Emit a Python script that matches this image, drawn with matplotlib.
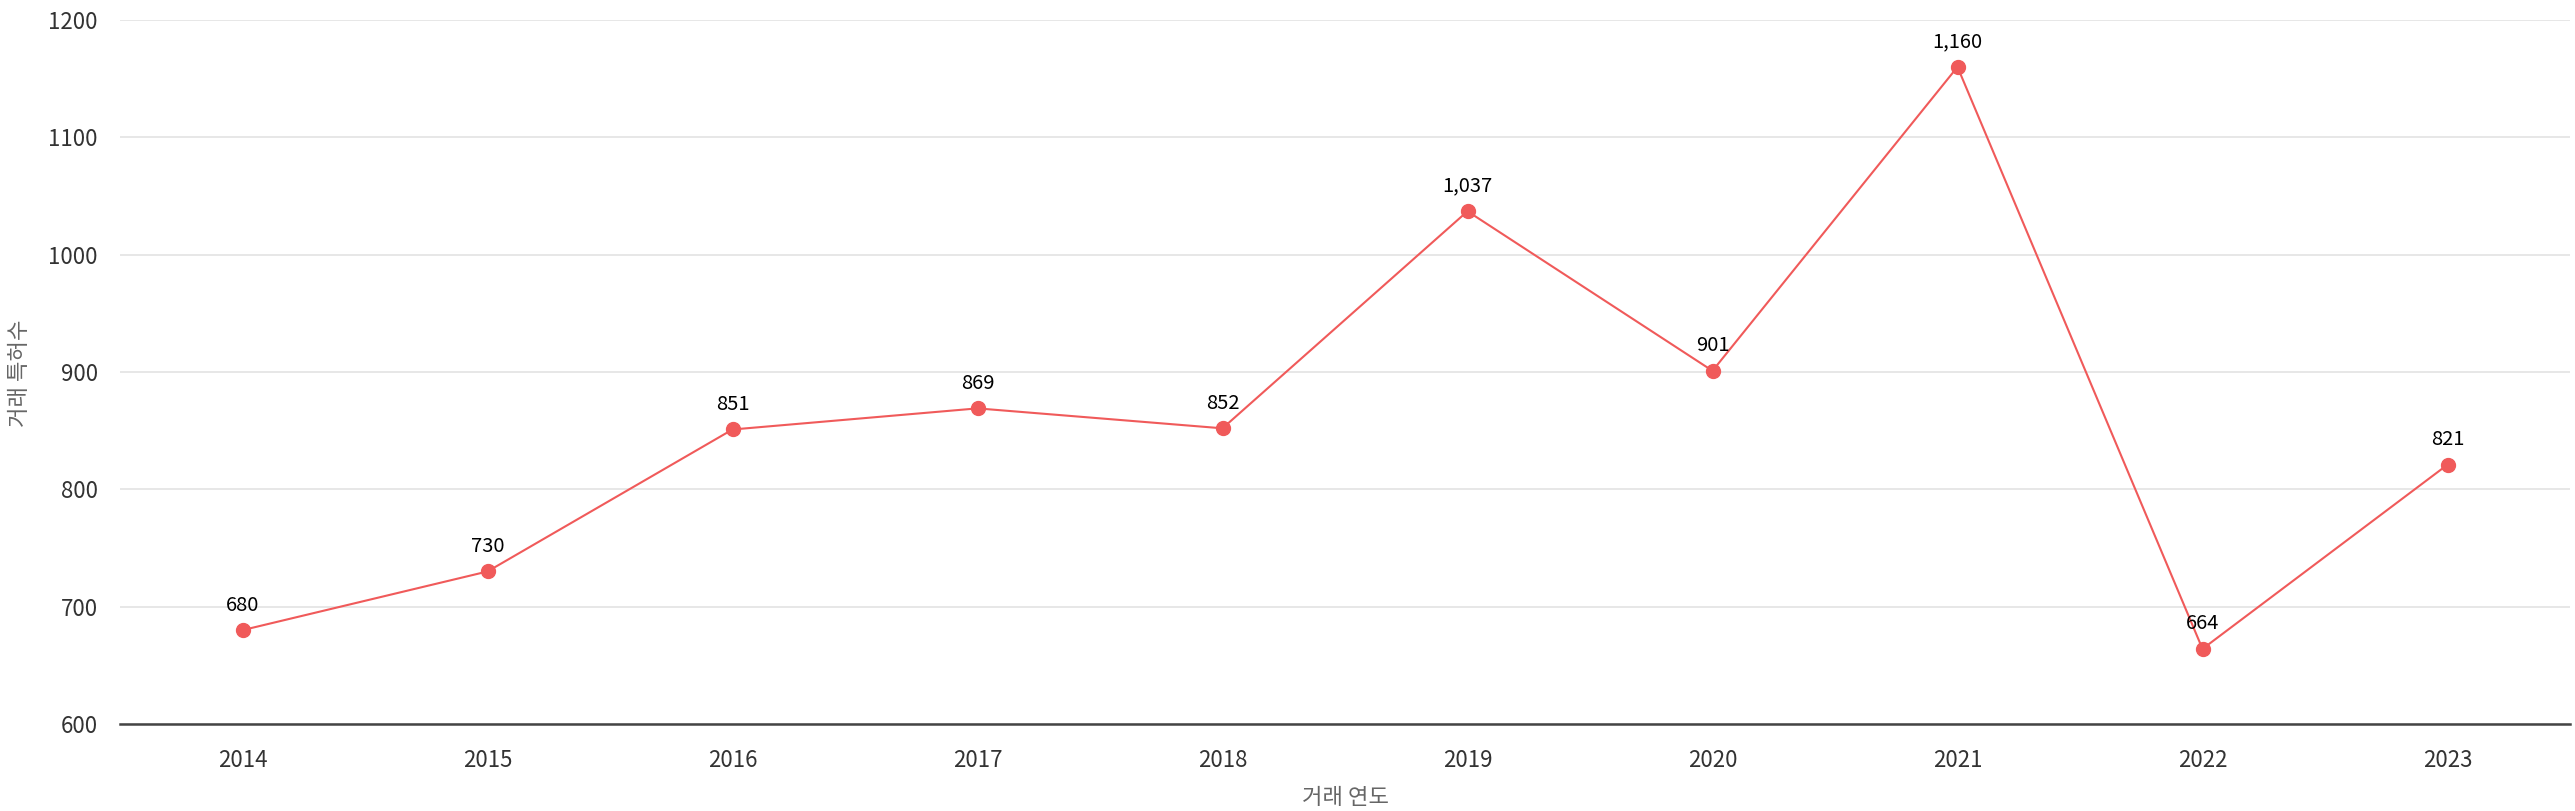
import matplotlib
matplotlib.use("Agg")
import matplotlib.pyplot as plt

plt.rcParams['font.family'] = ['Noto Sans CJK KR', 'DejaVu Sans']

years = ['2014', '2015', '2016', '2017', '2018', '2019', '2020', '2021', '2022', '2023']
counts = [680, 730, 851, 869, 852, 1037, 901, 1160, 664, 821]
yticks = [600, 700, 800, 900, 1000, 1100, 1200]

W, H = 2575, 811
fig = plt.figure(figsize=(W / 100, H / 100), dpi=100)
ax = fig.add_axes([120 / W, (H - 724) / H, 2450 / W, 704 / H])

x = list(range(len(years)))
ax.plot(x, counts, color='#f05a5a', lw=1.5, marker='o', ms=10, mec='#f05a5a', mfc='#f05a5a', zorder=3)
for xi, v in zip(x, counts):
    ax.annotate(f"{v:,}", (xi, v), xytext=(0, 25), textcoords='offset pixels',
                ha='center', va='center', fontsize=14.5, color='black', fontweight='medium')

ax.set_xlim(-0.5, len(years) - 0.5)
ax.set_ylim(600, 1200)
ax.set_xticks(x)
ax.set_xticklabels(years)
ax.set_yticks(yticks)
ax.set_yticklabels([str(t) for t in yticks])
ax.tick_params(axis='both', length=0, labelsize=16, labelcolor='#333333')
ax.tick_params(axis='y', pad=16)
ax.tick_params(axis='x', pad=18)
ax.grid(axis='y', color='#e3e3e3', lw=1.2)
ax.set_axisbelow(True)
for s in ['top', 'right', 'left']:
    ax.spines[s].set_visible(False)
ax.spines['bottom'].set_color('#444444')
ax.spines['bottom'].set_linewidth(1.8)

fig.text(1345 / W, 1 - 797 / H, '거래 연도', ha='center', va='center', fontsize=16, color='#666666')
fig.text(20 / W, 1 - 373 / H, '거래 특허수', ha='center', va='center', rotation=90, fontsize=16, color='#666666')

fig.savefig('out.png', dpi=100, facecolor='white')
